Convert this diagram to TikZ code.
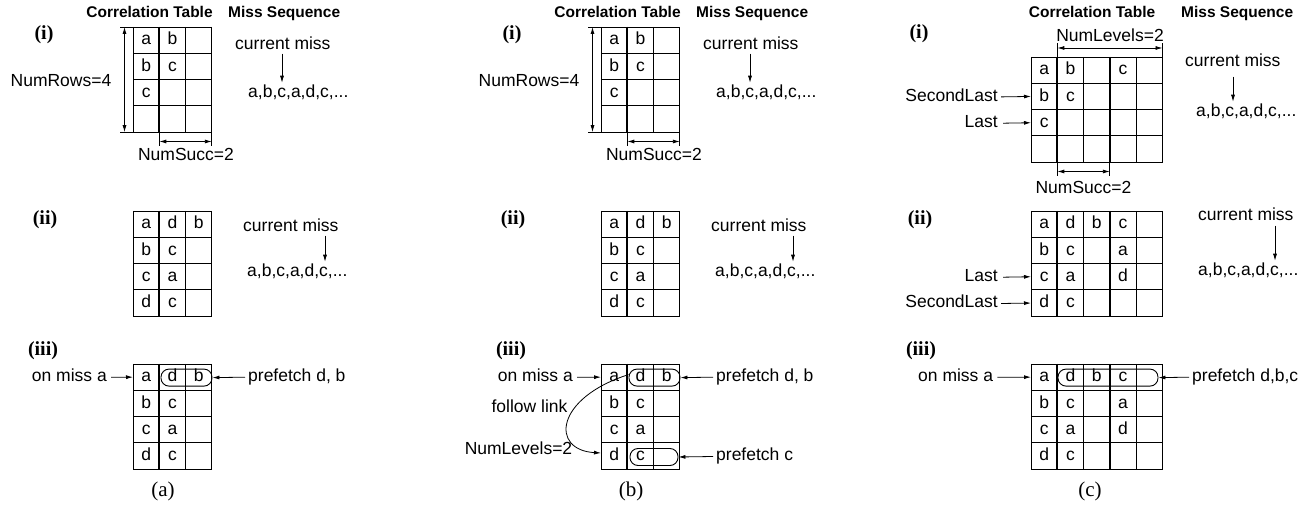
\documentclass[tikz,border=0pt]{standalone}
\usepackage{fontspec}
\setmainfont{Liberation Sans}
\newfontfamily\seriffont{Liberation Serif}
\usetikzlibrary{arrows.meta,calc}

\newcommand\tabgrid[1]{%
  \foreach \i in {0,...,#1} \draw[tline] ({26.3*\i},0) -- ({26.3*\i},105.2);
  \foreach \j in {0,...,4} \draw[tline] (0,{26.3*\j}) -- ({26.3*#1},{26.3*\j});
}
\newcommand\tabcell[4]{\node[cell] (#1) at ({26.3*(#3-0.5)},{26.3*(#2-0.5)}) {#4};}

\newcommand\panelAB[1]{%
  % headers
  \node[hdr] (#1-ct) at (149.5,13.9) {Correlation Table};
  \node[hdr,anchor=west] (#1-ms) at (228,13.9) {Miss Sequence};
  % (i)
  \node[romanlbl] (#1-i) at (44,35) {(i)};
  \begin{scope}[shift={(133,27)}]
    \tabgrid{3}
    \draw[thk] (26.3,0) -- (26.3,105.2);
    \tabcell{#1T1-11}{1}{1}{a}
    \tabcell{#1T1-12}{1}{2}{b}
    \tabcell{#1T1-21}{2}{1}{b}
    \tabcell{#1T1-22}{2}{2}{c}
    \tabcell{#1T1-31}{3}{1}{c}
  \end{scope}
  \draw[tline] (120,27) -- (133,27);
  \draw[tline] (120,132.2) -- (133,132.2);
  \draw[darr] (124.5,27) -- (124.5,132.2);
  \node[lbl] (#1-nr) at (61,82.5) {NumRows=4};
  \draw[tline] (159.3,132.2) -- (159.3,146);
  \draw[tline] (211.9,132.2) -- (211.9,146);
  \draw[darr] (159.3,141.5) -- (211.9,141.5);
  \node[lbl] (#1-ns) at (186,156.5) {NumSucc=2};
  \node[lbl,anchor=west] (#1-cm1) at (235,45.5) {current miss};
  \node[lbl,anchor=west] (#1-sq1) at (248,93.5) {a,b,c,a,d,c,...};
  \coordinate (#1-c1) at (282,0);
  \draw[arr] (#1-cm1.south -| #1-c1) -- ([yshift=2.5pt]#1-sq1.north -| #1-c1);
  % (ii)
  \node[romanlbl] (#1-ii) at (45,219.5) {(ii)};
  \begin{scope}[shift={(133,211)}]
    \tabgrid{3}
    \draw[thk] (26.3,0) -- (26.3,105.2);
    \tabcell{#1T2-11}{1}{1}{a}
    \tabcell{#1T2-12}{1}{2}{d}
    \tabcell{#1T2-13}{1}{3}{b}
    \tabcell{#1T2-21}{2}{1}{b}
    \tabcell{#1T2-22}{2}{2}{c}
    \tabcell{#1T2-31}{3}{1}{c}
    \tabcell{#1T2-32}{3}{2}{a}
    \tabcell{#1T2-41}{4}{1}{d}
    \tabcell{#1T2-42}{4}{2}{c}
  \end{scope}
  \node[lbl,anchor=west] (#1-cm2) at (243,227.5) {current miss};
  \node[lbl,anchor=west] (#1-sq2) at (247,272.5) {a,b,c,a,d,c,...};
  \coordinate (#1-c2) at (325,0);
  \draw[arr] (#1-cm2.south -| #1-c2) -- ([yshift=2.5pt]#1-sq2.north -| #1-c2);
}

\begin{document}
\begin{tikzpicture}[x=1pt,y=-1pt,
  lbl/.style={font=\fontsize{17.5}{20}\selectfont, inner sep=0pt, text height=12.5pt, text depth=3.6pt},
  hdr/.style={font=\fontsize{15.5}{18}\selectfont\bfseries, inner sep=0pt, text height=11.2pt, text depth=3.2pt},
  romanlbl/.style={font=\seriffont\bfseries\fontsize{20}{23}\selectfont, inner sep=0pt},
  caplbl/.style={font=\seriffont\fontsize{21}{24}\selectfont, inner sep=0pt},
  cell/.style={font=\fontsize{17.5}{20}\selectfont, inner sep=0pt, text height=9.6pt, text depth=0pt},
  tline/.style={line width=0.9pt},
  thk/.style={line width=1.9pt},
  arr/.style={line width=0.8pt, -{Latex[length=7pt,width=4pt]}},
  darr/.style={line width=0.8pt, {Latex[length=7pt,width=4pt]}-{Latex[length=7pt,width=4pt]}},
  pfbox/.style={draw, line width=0.9pt, rounded corners=8pt, inner sep=0pt, minimum height=17pt}
]
\useasboundingbox (0,0) rectangle (1310,510);

% ===== Panel (a) and (b): parts (i), (ii)
\begin{scope}\panelAB{A}\end{scope}
\begin{scope}[xshift=468pt]\panelAB{B}\end{scope}

% ===== Panel (a) part (iii)
\node[romanlbl] (A-iii) at (43,350.5) {(iii)};
\begin{scope}[shift={(133,364)}]
  \tabgrid{3}
  \draw[thk] (26.3,0) -- (26.3,105.2);
  \tabcell{AT3-11}{1}{1}{a}
  \tabcell{AT3-12}{1}{2}{d}
  \tabcell{AT3-13}{1}{3}{b}
  \tabcell{AT3-21}{2}{1}{b}
  \tabcell{AT3-22}{2}{2}{c}
  \tabcell{AT3-31}{3}{1}{c}
  \tabcell{AT3-32}{3}{2}{a}
  \tabcell{AT3-41}{4}{1}{d}
  \tabcell{AT3-42}{4}{2}{c}
  \coordinate (AT3-r1) at (0,13.15);
  \node[pfbox, minimum width=51pt] (AT3-pf) at (53.5,13.6) {};
\end{scope}
\node[lbl,anchor=east] (A-om) at (107,377.2) {on miss a};
\draw[arr] ([xshift=4pt]A-om.east) -- (AT3-r1);
\node[lbl,anchor=west] (A-pf) at (248,377.2) {prefetch d, b};
\draw[arr] ([xshift=-3pt]A-pf.west) -- (AT3-pf.east);
\node[caplbl] (A-cap) at (163,491) {(a)};

% ===== Panel (b) part (iii)
\node[romanlbl] (B-iii) at (511,350.5) {(iii)};
\begin{scope}[shift={(601,364)}]
  \tabgrid{3}
  \draw[thk] (26.3,0) -- (26.3,105.2);
  \tabcell{BT3-11}{1}{1}{a}
  \tabcell{BT3-12}{1}{2}{d}
  \tabcell{BT3-13}{1}{3}{b}
  \tabcell{BT3-21}{2}{1}{b}
  \tabcell{BT3-22}{2}{2}{c}
  \tabcell{BT3-31}{3}{1}{c}
  \tabcell{BT3-32}{3}{2}{a}
  \tabcell{BT3-41}{4}{1}{d}
  \tabcell{BT3-42}{4}{2}{c}
  \coordinate (BT3-r1) at (0,13.15);
  \coordinate (BT3-r4) at (0,89);
  \node[pfbox, minimum width=51pt] (BT3-pf1) at (53.5,13.6) {};
  \node[pfbox, minimum width=48pt] (BT3-pf2) at (53,93) {};
\end{scope}
\node[lbl,anchor=east] (B-om) at (573,377.2) {on miss a};
\draw[arr] ([xshift=4pt]B-om.east) -- (BT3-r1);
\node[lbl,anchor=west] (B-pf1) at (716,377.2) {prefetch d, b};
\draw[arr] ([xshift=-3pt]B-pf1.west) -- (BT3-pf1.east);
\node[lbl,anchor=west] (B-pf2) at (716,456.5) {prefetch c};
\draw[arr] ([xshift=-3pt]B-pf2.west) -- (BT3-pf2.east);
\draw[arr] ([yshift=3pt]BT3-pf1.west) .. controls (555,398) and (550,450) .. (BT3-r4);
\node[lbl] (B-fl) at (529.5,408.5) {follow link};
\node[lbl] (B-nl) at (518.5,450.5) {NumLevels=2};
\node[caplbl] (B-cap) at (631,491) {(b)};

% ===== Panel (c)
\node[hdr] (C-ct) at (1092,13.9) {Correlation Table};
\node[hdr,anchor=west] (C-ms) at (1181,13.9) {Miss Sequence};
% (i)
\node[romanlbl] (C-i) at (919,34) {(i)};
\begin{scope}[shift={(1031,57)}]
  \tabgrid{5}
  \draw[thk] (26.3,0) -- (26.3,105.2);
  \draw[thk] (78.9,0) -- (78.9,105.2);
  \tabcell{CT1-11}{1}{1}{a}
  \tabcell{CT1-12}{1}{2}{b}
  \tabcell{CT1-14}{1}{4}{c}
  \tabcell{CT1-21}{2}{1}{b}
  \tabcell{CT1-22}{2}{2}{c}
  \tabcell{CT1-31}{3}{1}{c}
  \coordinate (CT1-r2) at (0,39.45);
  \coordinate (CT1-r3) at (0,65.75);
\end{scope}
\draw[tline] (1057.3,57) -- (1057.3,43);
\draw[tline] (1162.5,57) -- (1162.5,43);
\draw[darr] (1057.3,48) -- (1162.5,48);
\node[lbl] (C-nl) at (1110,37.5) {NumLevels=2};
\draw[tline] (1057.3,162.2) -- (1057.3,176);
\draw[tline] (1109.9,162.2) -- (1109.9,176);
\draw[darr] (1057.3,171.5) -- (1109.9,171.5);
\node[lbl] (C-ns) at (1083.5,189.5) {NumSucc=2};
\node[lbl,anchor=east] (C-sl1) at (998,96.9) {SecondLast};
\draw[arr] ([xshift=3pt]C-sl1.east) -- (CT1-r2);
\node[lbl,anchor=east] (C-l1) at (998,123.2) {Last};
\draw[arr] ([xshift=5pt]C-l1.east) -- (CT1-r3);
\node[lbl,anchor=west] (C-cm1) at (1185,62.5) {current miss};
\node[lbl,anchor=west] (C-sq1) at (1196,112.5) {a,b,c,a,d,c,...};
\coordinate (C-c1) at (1233,0);
\draw[arr] ([yshift=-6pt]C-cm1.south -| C-c1) -- ([yshift=2.5pt]C-sq1.north -| C-c1);
% (ii)
\node[romanlbl] (C-ii) at (920,219.5) {(ii)};
\begin{scope}[shift={(1031,211)}]
  \tabgrid{5}
  \draw[thk] (26.3,0) -- (26.3,105.2);
  \draw[thk] (78.9,0) -- (78.9,105.2);
  \tabcell{CT2-11}{1}{1}{a}
  \tabcell{CT2-12}{1}{2}{d}
  \tabcell{CT2-13}{1}{3}{b}
  \tabcell{CT2-14}{1}{4}{c}
  \tabcell{CT2-21}{2}{1}{b}
  \tabcell{CT2-22}{2}{2}{c}
  \tabcell{CT2-24}{2}{4}{a}
  \tabcell{CT2-31}{3}{1}{c}
  \tabcell{CT2-32}{3}{2}{a}
  \tabcell{CT2-34}{3}{4}{d}
  \tabcell{CT2-41}{4}{1}{d}
  \tabcell{CT2-42}{4}{2}{c}
  \coordinate (CT2-r3) at (0,65.75);
  \coordinate (CT2-r4) at (0,92.05);
\end{scope}
\node[lbl,anchor=east] (C-l2) at (998,277.2) {Last};
\draw[arr] ([xshift=5pt]C-l2.east) -- (CT2-r3);
\node[lbl,anchor=east] (C-sl2) at (998,303.5) {SecondLast};
\draw[arr] ([xshift=3pt]C-sl2.east) -- (CT2-r4);
\node[lbl,anchor=west] (C-cm2) at (1198,216.5) {current miss};
\node[lbl,anchor=west] (C-sq2) at (1198,271.5) {a,b,c,a,d,c,...};
\coordinate (C-c2) at (1275,0);
\draw[arr] ([yshift=-1pt]C-cm2.south -| C-c2) -- ([yshift=2.5pt]C-sq2.north -| C-c2);
% (iii)
\node[romanlbl] (C-iii) at (921,350.5) {(iii)};
\begin{scope}[shift={(1031,364)}]
  \tabgrid{5}
  \draw[thk] (26.3,0) -- (26.3,105.2);
  \draw[thk] (78.9,0) -- (78.9,105.2);
  \tabcell{CT3-11}{1}{1}{a}
  \tabcell{CT3-12}{1}{2}{d}
  \tabcell{CT3-13}{1}{3}{b}
  \tabcell{CT3-14}{1}{4}{c}
  \tabcell{CT3-21}{2}{1}{b}
  \tabcell{CT3-22}{2}{2}{c}
  \tabcell{CT3-24}{2}{4}{a}
  \tabcell{CT3-31}{3}{1}{c}
  \tabcell{CT3-32}{3}{2}{a}
  \tabcell{CT3-34}{3}{4}{d}
  \tabcell{CT3-41}{4}{1}{d}
  \tabcell{CT3-42}{4}{2}{c}
  \coordinate (CT3-r1) at (0,13.15);
  \node[pfbox, minimum width=100pt] (CT3-pf) at (77,13.6) {};
\end{scope}
\node[lbl,anchor=west] (C-om) at (918,377.2) {on miss a};
\draw[arr] ([xshift=4pt]C-om.east) -- (CT3-r1);
\node[lbl,anchor=west] (C-pf) at (1192,377.2) {prefetch d,b,c};
\draw[arr] ([xshift=-3pt]C-pf.west) -- (CT3-pf.east);
\node[caplbl] (C-cap) at (1090,491) {(c)};
\end{tikzpicture}
\end{document}
